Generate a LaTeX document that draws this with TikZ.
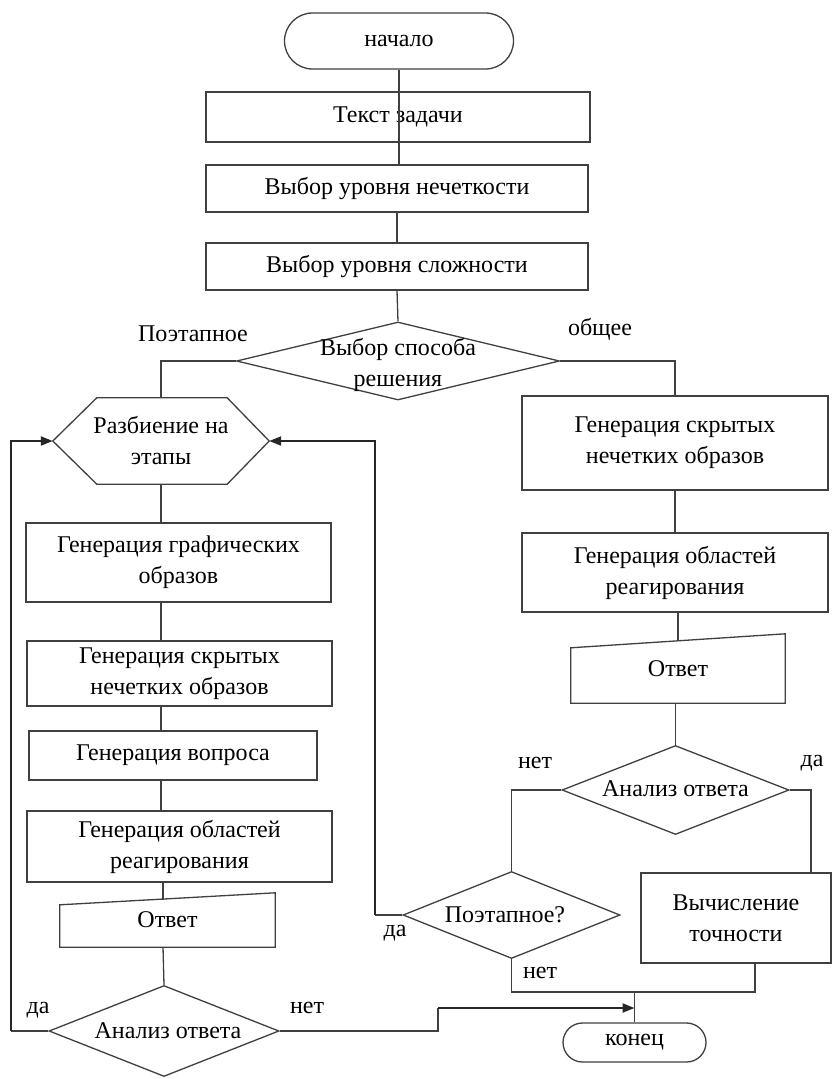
\documentclass[tikz,border=0pt]{standalone}
\usepackage{fontspec}
\setmainfont{Liberation Serif}
\usetikzlibrary{shapes.geometric,shapes.misc,calc,arrows.meta}
\begin{document}
\begin{tikzpicture}[x=1pt,y=-1pt,
  every node/.style={font=\fontsize{24}{31}\selectfont},
  ln/.style={draw=black!75, line width=1.3pt},
  box/.style={draw=black!75, line width=1.3pt, rectangle, inner sep=0pt, align=center},
  ghost/.style={rectangle, inner sep=0pt, align=center},
  dia/.style={draw=black!75, line width=1.3pt, diamond, inner sep=0pt},
  term/.style={draw=black!75, line width=1.3pt, rounded rectangle, inner sep=0pt},
  txt/.style={inner sep=0pt, align=center},
  arr/.style={draw=black!85, line width=2pt, -{Triangle[length=12pt,width=9pt]}}
]
\useasboundingbox (0,0) rectangle (833,1079);
\fill[white] (0,0) rectangle (833,1079);

% main column
\node[term, minimum width=229pt, minimum height=56pt] (start) at (399,41) {начало};
\node[box, minimum width=384pt, minimum height=50pt] (t1) at (398,117) {Текст задачи};
\node[box, minimum width=382pt, minimum height=47pt] (t2) at (397,188.5) {Выбор уровня нечеткости};
\node[box, minimum width=382pt, minimum height=47pt] (t3) at (397,266.5) {Выбор уровня сложности};
\node[dia, minimum width=323pt, minimum height=78pt] (d1) at (398,361) {};
\node[txt] (d1t) at (398,365) {Выбор способа\\решения};
\node[txt] (lpo) at (193,334) {Поэтапное};
\node[txt] (lob) at (600,329) {общее};

% left branch
\node[ghost, minimum width=216pt, minimum height=86pt] (hex) at (161,441) {Разбиение на\\этапы};
\draw[ln] (hex.west) -- ($(hex.north west)+(44,0)$) -- ($(hex.north east)+(-42,0)$) -- (hex.east)
  -- ($(hex.south east)+(-42,0)$) -- ($(hex.south west)+(44,0)$) -- cycle;
\node[box, minimum width=305pt, minimum height=79pt] (lg1) at (178.5,562.5) {Генерация графических\\образов};
\node[box, minimum width=305pt, minimum height=65pt] (lg2) at (179.5,673.5) {Генерация скрытых\\нечетких образов};
\node[box, minimum width=288pt, minimum height=49pt] (lg3) at (173,755.5) {Генерация вопроса};
\node[box, minimum width=305pt, minimum height=71pt] (lg4) at (179.5,846.5) {Генерация областей\\реагирования};
\node[ghost, minimum width=215pt, minimum height=54pt] (lans) at (167.5,920) {\raisebox{-4pt}{Ответ}};
\draw[ln] (lans.south west) -- (lans.south east) -- (lans.north east) -- ($(lans.north west)+(0,12)$) -- cycle;
\node[dia, minimum width=230pt, minimum height=91pt] (ld) at (164,1031) {};
\node[txt] (ldt) at (168,1031) {Анализ ответа};
\node[txt] (lda) at (38,1010) {да};
\node[txt] (ldn) at (307,1008) {нет};

% right branch
\node[box, minimum width=306pt, minimum height=94pt] (rg1) at (675,443) {Генерация скрытых\\нечетких образов};
\node[box, minimum width=306pt, minimum height=79pt] (rg2) at (675,572.5) {Генерация областей\\реагирования};
\node[ghost, minimum width=214pt, minimum height=69pt] (rans) at (678,668.5) {\raisebox{-5pt}{Ответ}};
\draw[ln] (rans.south west) -- (rans.south east) -- (rans.north east) -- ($(rans.north west)+(0,14)$) -- cycle;
\node[dia, minimum width=227pt, minimum height=89pt] (rd) at (675.5,790) {};
\node[txt] (rdt) at (675.5,789) {Анализ ответа};
\node[txt] (rdn) at (535,763) {нет};
\node[txt] (rdy) at (812,763) {да};
\node[dia, minimum width=217pt, minimum height=87pt] (pd) at (511.5,915) {};
\node[txt] (pdt) at (505,915) {Поэтапное?};
\node[txt] (pdy) at (395,933) {да};
\node[txt] (pdn) at (540,973) {нет};
\node[box, minimum width=190pt, minimum height=90pt] (calc) at (736,918) {Вычисление\\точности};
\node[term, minimum width=143pt, minimum height=39pt] (end) at (634.5,1042.5) {конец};

% coordinates
\coordinate (rloop) at (375,915);
\coordinate (lloop) at (11,1031);
\coordinate (cin) at (811,873);
\coordinate (cout) at (755,963);
\coordinate (jn) at (634.5,992);
\coordinate (nstep) at (438,1031);
\coordinate (ahead) at (634.5,1008);

% connectors main
\draw[ln] (start.south) -- (start.south |- t2.north);
\draw[ln] (t2.south) -- (t2.south |- t3.north);
\draw[ln] (t3.south) -- (d1.north);
\draw[ln] (d1.west) -| (hex.north);
\draw[ln] (d1.east) -| (rg1.north);

% left column
\draw[ln] (hex.south) -- (hex.south |- lg1.north);
\draw[ln] (hex.south |- lg1.south) -- (hex.south |- lg2.north);
\draw[ln] (hex.south |- lg2.south) -- (hex.south |- lg3.north);
\draw[ln] (hex.south |- lg3.south) -- (hex.south |- lg4.north);
\draw[ln] (163,882) -- (163,900);
\draw[ln] (163,947) -- (ld.north);
\draw[ln] (ld.west) -- (lloop);
\draw[arr] (lloop) |- (hex.west);
\draw[ln] (ld.east) -- (nstep) -- (nstep |- ahead);
\draw[arr] (nstep |- ahead) -- (ahead);

% right column
\draw[ln] (rg1.south) -- (rg2.north);
\draw[ln] (678,612) -- (678,641);
\draw[ln] (675.5,703) -- (rd.north);
\draw[ln] (rd.west) -| (pd.north);
\draw[ln] (rd.east) -| (cin);
\draw[ln] (pd.west) -- (rloop);
\draw[arr] (rloop) |- (hex.east);
\draw[ln] (pd.south) |- (jn) -| (cout);
\draw[ln] (jn) -- (end.north);
\end{tikzpicture}
\end{document}
